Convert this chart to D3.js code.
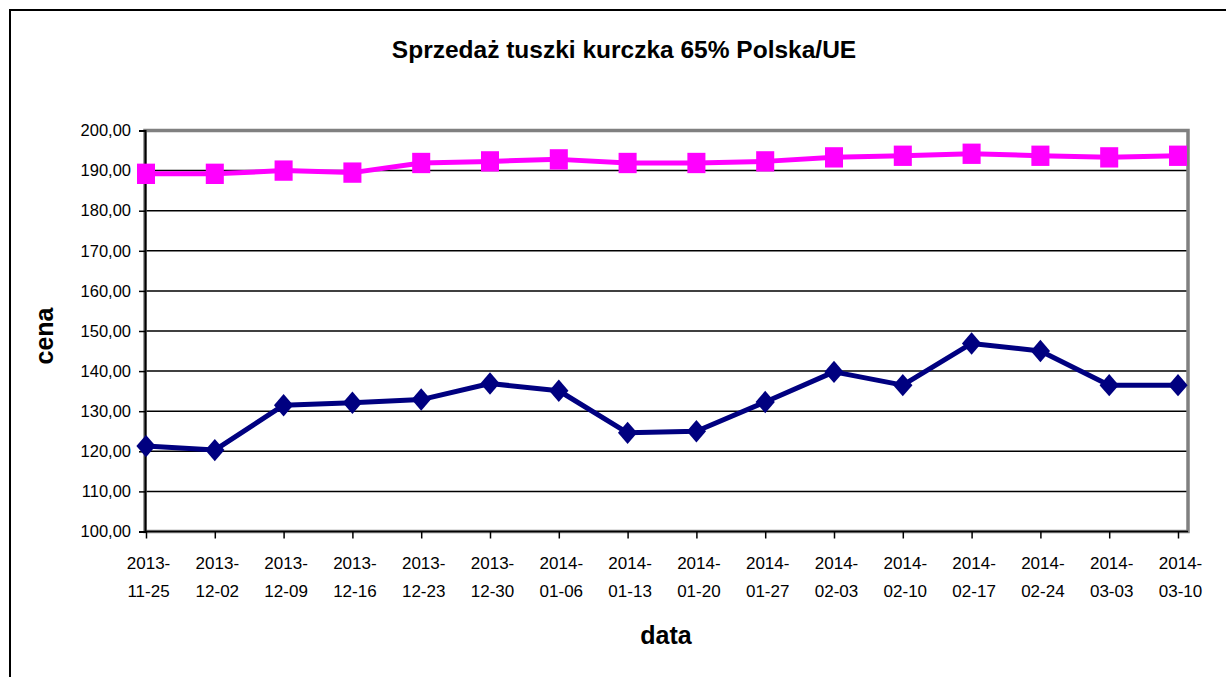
<!DOCTYPE html>
<html>
<head>
<meta charset="utf-8">
<script src="https://cdn.jsdelivr.net/npm/d3@7"></script>
<style>
  html, body { margin: 0; padding: 0; background: #fff; }
  svg { display: block; }
</style>
</head>
<body>
<svg id="chart" width="1226" height="677"></svg>
<script>
const title = "Sprzedaż tuszki kurczka 65% Polska/UE";
const yTitle = "cena";
const xTitle = "data";
const dates = ["2013-11-25","2013-12-02","2013-12-09","2013-12-16","2013-12-23","2013-12-30",
  "2014-01-06","2014-01-13","2014-01-20","2014-01-27","2014-02-03","2014-02-10",
  "2014-02-17","2014-02-24","2014-03-03","2014-03-10"];
const seriesEU = [189.2, 189.2, 190.0, 189.5, 191.9, 192.3, 192.8, 191.9, 191.9, 192.3, 193.3, 193.7, 194.2, 193.7, 193.3, 193.7];
const seriesPL = [121.3, 120.3, 131.5, 132.1, 132.9, 136.9, 135.1, 124.6, 125.0, 132.3, 139.8, 136.5, 146.9, 145.0, 136.5, 136.5];
const yTicks = [100,110,120,130,140,150,160,170,180,190,200];

const svg = d3.select("#chart");
const W = 1226, H = 677;
const plot = {left: 145, right: 1188, top: 130.5, bottom: 531.5};

svg.append("rect").attr("width", W).attr("height", H).attr("fill", "#fff");
// outer chart border
svg.append("rect").attr("x", 10).attr("y", 10).attr("width", W + 20).attr("height", H + 20)
  .attr("fill", "none").attr("stroke", "#000").attr("stroke-width", 2);

const x = d3.scalePoint().domain(dates).range([146, 1178]);
const y = d3.scaleLinear().domain([100, 200]).range([plot.bottom, plot.top]);

// gridlines
svg.append("g").selectAll("line").data(yTicks.filter(d => d > 100 && d < 200)).join("line")
  .attr("x1", plot.left).attr("x2", plot.right)
  .attr("y1", d => y(d)).attr("y2", d => y(d))
  .attr("stroke", "#000").attr("stroke-width", 1.5);

// plot area border (gray)
svg.append("rect").attr("x", plot.left).attr("y", plot.top)
  .attr("width", plot.right - plot.left).attr("height", plot.bottom - plot.top)
  .attr("fill", "none").attr("stroke", "#808080").attr("stroke-width", 3.5);

// y axis
const yAxis = d3.axisLeft(y).tickValues(yTicks).tickSize(6).tickPadding(8)
  .tickFormat(d => d3.format(".2f")(d).replace(".", ","));
const gy = svg.append("g").attr("transform", `translate(${plot.left},0)`).call(yAxis);
gy.select(".domain").attr("stroke", "#000").attr("stroke-width", 2);
gy.selectAll(".tick line").attr("stroke", "#000").attr("stroke-width", 1.5);
gy.selectAll(".tick text").attr("font-family", "Liberation Sans, Arial, sans-serif")
  .attr("font-size", 16.5).attr("fill", "#000");

// x axis
const xAxis = d3.axisBottom(x).tickSize(7).tickSizeOuter(0).tickFormat(() => "");
const gx = svg.append("g").attr("transform", `translate(0,${plot.bottom})`).call(xAxis);
gx.select(".domain").attr("stroke", "#000").attr("stroke-width", 1.5).attr("d", `M${plot.left},0H${plot.right}`);
gx.selectAll(".tick line").attr("stroke", "#000").attr("stroke-width", 1.5);
gx.selectAll(".tick").each(function(d) {
  const parts = d.split("-");
  const t = d3.select(this).append("text").attr("text-anchor", "middle")
    .attr("font-family", "Liberation Sans, Arial, sans-serif")
    .attr("font-size", 17).attr("fill", "#000");
  t.append("tspan").attr("x", 2).attr("y", 37).text(parts[0] + "-");
  t.append("tspan").attr("x", 2).attr("y", 65).text(parts[1] + "-" + parts[2]);
});

// lines
const line = d3.line().x((d, i) => x(dates[i])).y(d => y(d));
svg.append("path").datum(seriesEU).attr("d", line).attr("fill", "none")
  .attr("stroke", "#FF00FF").attr("stroke-width", 5).attr("stroke-linejoin", "round");
svg.append("path").datum(seriesPL).attr("d", line).attr("fill", "none")
  .attr("stroke", "#000080").attr("stroke-width", 5).attr("stroke-linejoin", "round");

// markers
svg.append("g").selectAll("path").data(seriesEU).join("path")
  .attr("transform", (d, i) => `translate(${x(dates[i])},${y(d)}) scale(0.95,1.07)`)
  .attr("d", d3.symbol(d3.symbolSquare, 361)())
  .attr("fill", "#FF00FF");
svg.append("g").selectAll("path").data(seriesPL).join("path")
  .attr("transform", (d, i) => `translate(${x(dates[i])},${y(d)}) scale(0.93,1.08) rotate(45)`)
  .attr("d", d3.symbol(d3.symbolSquare, 215)())
  .attr("fill", "#000080");

// titles
svg.append("text").attr("x", 624).attr("y", 58).attr("text-anchor", "middle")
  .attr("font-family", "Liberation Sans, Arial, sans-serif")
  .attr("font-weight", "bold").attr("font-size", 24.5).text(title);
svg.append("text").attr("transform", "translate(53,336) rotate(-90)").attr("text-anchor", "middle")
  .attr("font-family", "Liberation Sans, Arial, sans-serif")
  .attr("font-weight", "bold").attr("font-size", 25).text(yTitle);
svg.append("text").attr("x", 666).attr("y", 644).attr("text-anchor", "middle")
  .attr("font-family", "Liberation Sans, Arial, sans-serif")
  .attr("font-weight", "bold").attr("font-size", 25).text(xTitle);
</script>
</body>
</html>
